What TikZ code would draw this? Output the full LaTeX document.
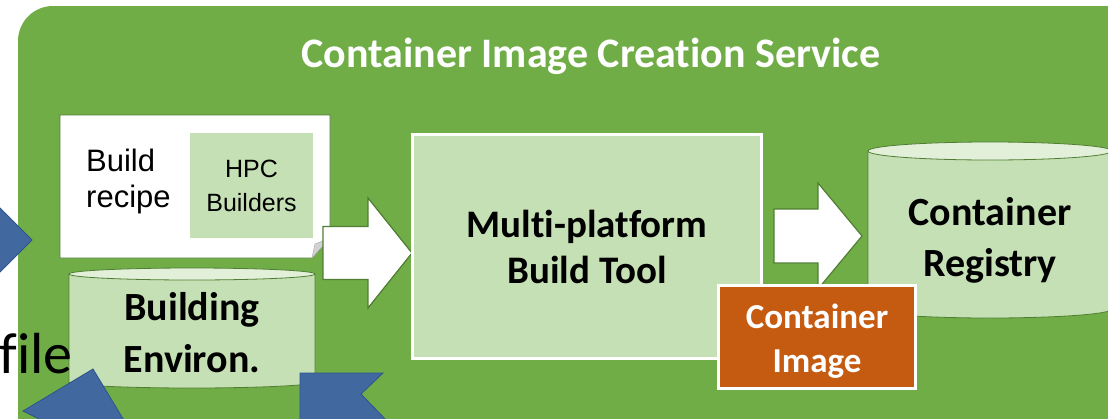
\documentclass[tikz,border=0pt]{standalone}
\usepackage{fontspec}
\setmainfont{Carlito}[Ligatures=NoCommon]
\newfontfamily\arialfont{Liberation Sans}
\usetikzlibrary{calc}
\definecolor{bggreen}{HTML}{70AD47}
\definecolor{lgreen}{HTML}{C5E0B4}
\definecolor{topgreen}{HTML}{E2F0D9}
\definecolor{dgreen}{HTML}{507E32}
\definecolor{imgorange}{HTML}{C55A11}
\definecolor{arrblue}{HTML}{41699F}
\definecolor{bluedge}{HTML}{2F528F}
\begin{document}
\begin{tikzpicture}[x=1pt,y=-1pt,
 bigbold/.style={font=\bfseries\fontsize{39}{46}\selectfont,align=center,inner sep=0pt},
 cylline/.style={draw=dgreen,line width=0.8pt},
 blockarr/.style={fill=white,draw=dgreen,line width=1.2pt,line join=miter},
 bluearr/.style={fill=arrblue,draw=bluedge,line width=0.8pt}]
 \useasboundingbox (0,0) rectangle (1108,418);
 \clip (0,0) rectangle (1108,418);
 % service background
 \fill[bggreen,rounded corners=35pt] (18,6) rectangle (1160,470);
 \node[font=\bfseries\fontsize{42}{50}\selectfont,text=white,anchor=base,inner sep=0pt] (title) at (591,67) {Container Image Creation Service};
 % build recipe sheet with folded corner
 \draw[fill=white,draw=dgreen,line width=0.8pt] (60,115) -- (330,115) -- (330,238) -- (312,258) -- (60,258) -- cycle;
 \draw[fill=gray!35,draw=gray!60,line width=0.5pt] (312,258) -- (315,244) -- (330,238) -- cycle;
 \node[font=\arialfont\fontsize{31}{36}\selectfont,align=left,anchor=west,inner sep=0pt] (recipe) at (86,181) {Build\\recipe};
 \node[fill=lgreen,minimum width=123pt,minimum height=105pt,inner sep=0pt,align=center,font=\arialfont\fontsize{25}{34}\selectfont] (hpc) at (251.5,185.5) {HPC\\Builders};
 % building environment
 \draw[cylline,fill=lgreen] (69,274) -- (69,382) arc[start angle=180,end angle=0,x radius=123,y radius=6] -- (315,274);
 \draw[cylline,fill=topgreen] (192,274) ellipse[x radius=123,y radius=6];
 \node[bigbold,font=\bfseries\fontsize{40}{52}\selectfont] (env) at (192,333) {Building\\Environ.};
 % recipe -> tool
 \coordinate (tip1) at (412,253);
 \draw[blockarr] (tip1) -- ++(-44,-55) -- ++(0,28.5) -- ++(-45,0) -- ++(0,53) -- ++(45,0) -- ++(0,28.5) -- cycle;
 \node[draw=white,line width=3pt,fill=lgreen,minimum width=349pt,minimum height=224pt,bigbold] (tool) at (587,246.5) {Multi-platform\\Build Tool};
 % tool -> registry
 \coordinate (tip2) at (862,236);
 \draw[blockarr] (tip2) -- ++(-44,-53) -- ++(0,26) -- ++(-44,0) -- ++(0,54) -- ++(44,0) -- ++(0,26) -- cycle;
 \draw[cylline,fill=lgreen] (868,151) -- (868,309) arc[start angle=180,end angle=0,x radius=122,y radius=9] -- (1112,151);
 \draw[cylline,fill=topgreen] (990,151) ellipse[x radius=122,y radius=9];
 \node[bigbold,font=\bfseries\fontsize{40}{51}\selectfont] (reg) at (990,240) {Container\\Registry};
 \node[draw=white,line width=3pt,fill=imgorange,minimum width=197pt,minimum height=103pt,inner sep=0pt] (img) at (817,337) {};
 \node[text=white,font=\bfseries\fontsize{35}{44}\selectfont,align=center,inner sep=0pt] (imgtext) at ($(img)+(0,4)$) {Container\\Image};
 \node[font=\fontsize{58}{60}\selectfont,anchor=base east,inner sep=0pt] (file) at (73,373) {file};
 % incoming arrows (cut off)
 \draw[bluearr] (-2,206) -- (32,240) -- (-2,274) -- cycle;
 \draw[bluearr] (93,369) -- (23,411) -- (45,422) -- (125,422) -- cycle;
 \draw[bluearr] (300,373) -- (383,373) -- (361,394) -- (388,422) -- (300,422) -- cycle;
\end{tikzpicture}
\end{document}
